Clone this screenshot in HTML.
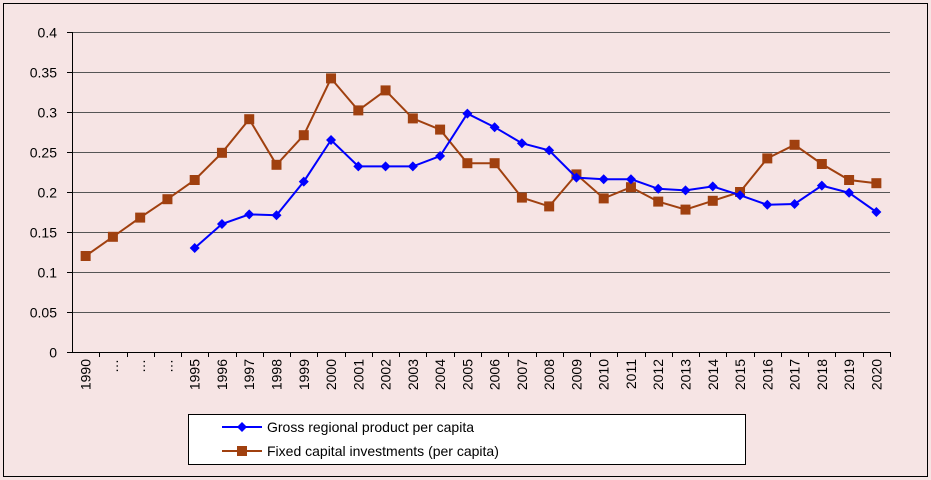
<!DOCTYPE html>
<html><head><meta charset="utf-8"><style>
html,body{margin:0;padding:0;background:#f6e4e4;}
svg{display:block;font-family:"Liberation Sans",sans-serif;}
</style></head><body>
<svg id="chart" width="931" height="480">
<rect x="3.5" y="3.5" width="924" height="473" fill="#f6e4e4" stroke="#000"/>
<g id="grid"></g><g id="axes"></g><g id="series"></g>
<g>
<rect x="188.5" y="414.5" width="557" height="50" fill="#fff" stroke="#000"/>
<line x1="222" y1="427" x2="262" y2="427" stroke="#0000ff" stroke-width="2"/>
<path d="M242 422 L247 427 L242 432 L237 427Z" fill="#0000ff"/>
<text x="267" y="432" font-size="14">Gross regional product per capita</text>
<line x1="222" y1="451" x2="262" y2="451" stroke="#a0400f" stroke-width="2"/>
<rect x="237" y="446" width="10" height="10" fill="#a0400f"/>
<text x="267" y="456" font-size="14">Fixed capital investments (per capita)</text>
</g>
</svg>
<script>
const categories=["1990","…","…","…","1995","1996","1997","1998","1999","2000","2001","2002","2003","2004","2005","2006","2007","2008","2009","2010","2011","2012","2013","2014","2015","2016","2017","2018","2019","2020"];
const gdpValues=[null,null,null,null,0.13,0.16,0.172,0.171,0.213,0.265,0.232,0.232,0.232,0.245,0.298,0.281,0.261,0.252,0.218,0.216,0.216,0.204,0.202,0.207,0.196,0.184,0.185,0.208,0.199,0.175];
const investValues=[0.12,0.144,0.168,0.191,0.215,0.249,0.291,0.234,0.271,0.342,0.302,0.327,0.292,0.278,0.236,0.236,0.193,0.182,0.222,0.192,0.206,0.188,0.178,0.189,0.2,0.242,0.259,0.235,0.215,0.211];
const yTicks=[0,0.05,0.1,0.15,0.2,0.25,0.3,0.35,0.4];
const yTickLabels=["0","0.05","0.1","0.15","0.2","0.25","0.3","0.35","0.4"];
const NS="http://www.w3.org/2000/svg";
const L=72,R=890,T=32,B=352;
const cw=(R-L)/categories.length;
const xS=i=>L+cw*(i+0.5);
const yS=v=>B-(v/0.4)*(B-T);
function mk(tag,attrs,parent){const e=document.createElementNS(NS,tag);for(const k in attrs)e.setAttribute(k,attrs[k]);parent.appendChild(e);return e;}
const grid=document.getElementById('grid'),axes=document.getElementById('axes'),ser=document.getElementById('series');
yTicks.forEach((v,i)=>{
  const y=Math.round(yS(v))+0.5;
  if(v>0){const g=mk('line',{x1:L,x2:R,y1:y,y2:y,stroke:'#555','stroke-width':1},grid);
  
  }
  mk('line',{x1:L-5,x2:L,y1:y,y2:y,stroke:'#000'},axes);
  const t=mk('text',{x:L-15,y:y+5,'font-size':14,'text-anchor':'end'},axes);
  t.textContent=yTickLabels[i];
  
  
});
mk('line',{x1:L+0.5,x2:L+0.5,y1:T,y2:B,stroke:'#000'},axes);
mk('line',{x1:L,x2:R,y1:B+0.5,y2:B+0.5,stroke:'#000'},axes);
categories.forEach((c,i)=>{
  const x=Math.round(L+cw*(i+1))+0.5;
  mk('line',{x1:x,x2:x,y1:B,y2:B+5,stroke:'#000'},axes);
  const t=mk('text',{transform:`translate(${xS(i)+5},${359}) rotate(-90)`,'font-size':14,'text-anchor':'end'},axes);
  t.textContent=c;
  
  
});
function drawSeries(vals,color,shape,name){
  let d='';vals.forEach((v,i)=>{if(v==null)return;d+=(d?'L':'M')+xS(i)+' '+yS(v);});
  const p=mk('path',{d:d,fill:'none',stroke:color,'stroke-width':2},ser);
  
  
  vals.forEach((v,i)=>{if(v==null)return;const x=xS(i),y=yS(v);let m;
    if(shape==='diamond')m=mk('path',{d:`M${x} ${y-5}L${x+5} ${y}L${x} ${y+5}L${x-5} ${y}Z`,fill:color},ser);
    else m=mk('rect',{x:x-5,y:y-5,width:10,height:10,fill:color},ser);
    
    });
}
drawSeries(investValues,'#a0400f','square','investment');
drawSeries(gdpValues,'#0000ff','diamond','gdp');
</script>
</body></html>
